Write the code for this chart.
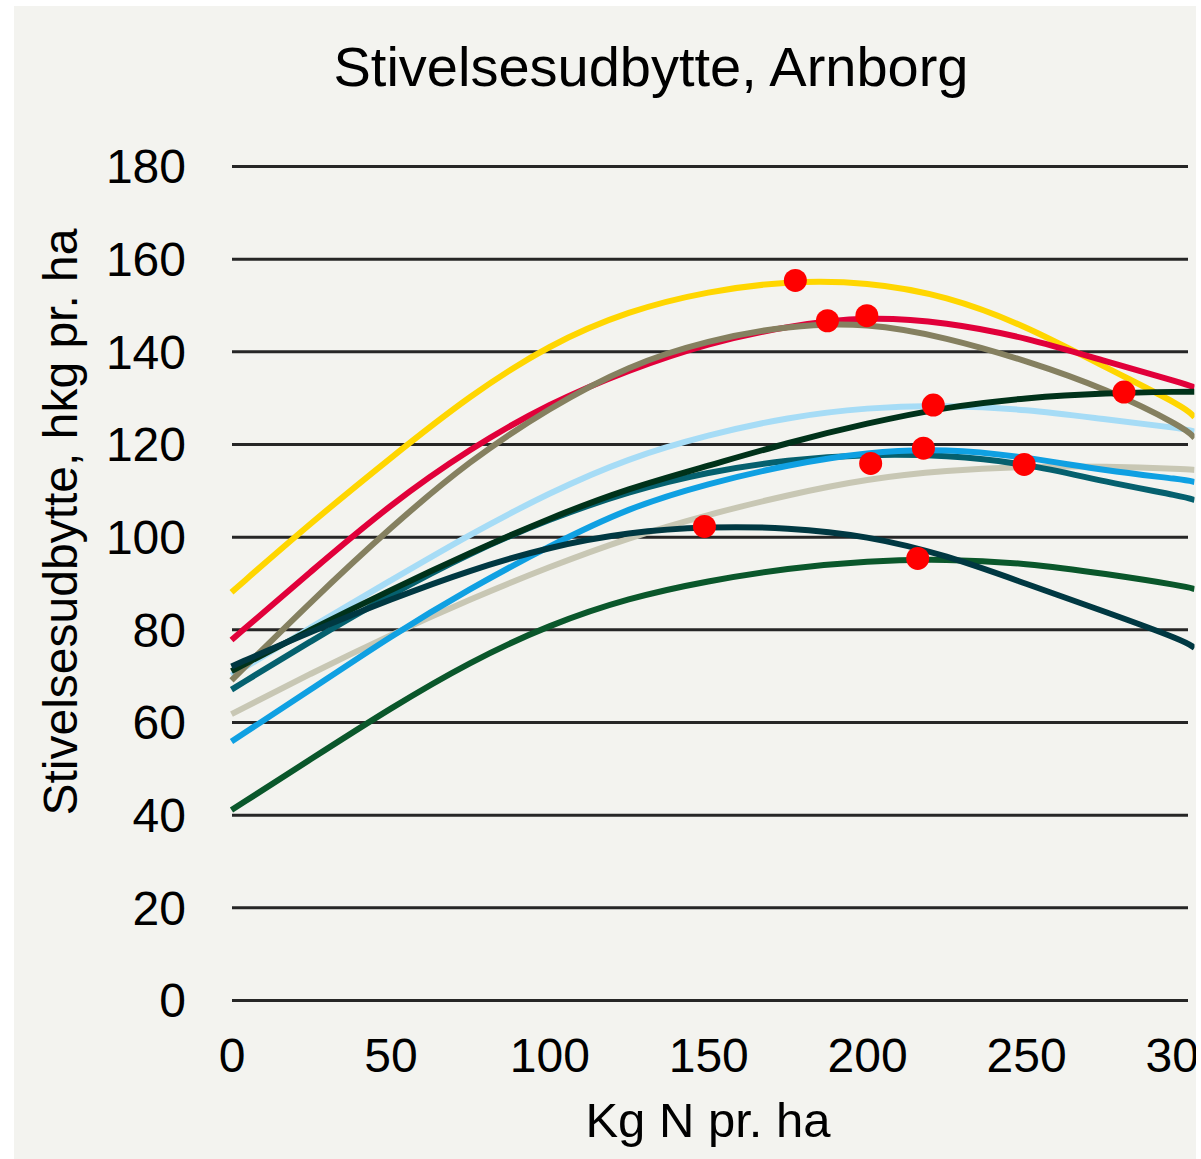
<!DOCTYPE html>
<html>
<head>
<meta charset="utf-8">
<script src="https://cdn.jsdelivr.net/npm/d3@7"></script>
<style>
  body { margin: 0; background: #ffffff; }
  text { font-family: 'Liberation Sans', Arial, sans-serif; fill: #000; }
</style>
</head>
<body>
<div id="chart"></div>
<script>
// Nitrogen levels (Kg N pr. ha) where the curves were read, last one is the right edge
var nLevels = [0, 25, 50, 75, 100, 125, 150, 175, 200, 225, 250, 275, 300, 303]

// Starch yield per curve, hkg pr. ha
var yellowYield = [88, 103, 117, 130.5, 141.5, 148.8, 153, 155.2, 155, 152, 145.5, 136.5, 128, 125.8]
var redYield = [77.7, 92.5, 107, 119, 128.8, 136, 141.8, 145.5, 147.6, 146.3, 143, 137.8, 133, 132.2]
var oliveYield = [69, 86, 102, 116.5, 127.8, 137, 142.4, 145.6, 146.2, 143, 138, 132, 123.5, 121.3]
var lightBlueYield = [70, 80.5, 90.5, 100.5, 109.5, 117, 122, 125.8, 127.9, 128.4, 127.5, 125.3, 123.3, 122.7]
var darkGreenYield = [71, 80, 88.5, 96.5, 104, 110.5, 115.3, 120.3, 124.5, 128, 130, 131, 131.3, 131.3]
var tealYield = [67, 77.5, 87.5, 96.5, 103.8, 109.8, 114, 116.6, 117.8, 117.6, 115.8, 111.8, 108.6, 107.9]
var blueYield = [55.8, 67, 78.5, 88.8, 98, 106.3, 111.5, 115.5, 118.3, 119, 117.2, 114.2, 112.3, 111.8]
var beigeYield = [61.7, 70.5, 78.8, 86.5, 93.5, 99.8, 104.8, 109, 112.5, 114.3, 115.2, 115.2, 114.6, 114.4]
var navyYield = [72, 79.5, 86.5, 92.8, 97.8, 101, 102.2, 102, 100.2, 96, 89.8, 83.8, 77.5, 76]
var greenYield = [41, 52, 63, 73, 81, 86.8, 90.5, 93.2, 94.8, 95.2, 94.3, 92, 89.3, 88.7]

// Economic optimum points (red dots)
var optN = [148.8, 177.4, 187.5, 199.9, 201.1, 217.7, 220.8, 215.9, 249.4, 280.8]
var optYield = [102.2, 155.3, 146.6, 147.7, 115.8, 119.1, 128.4, 95.3, 115.6, 131.2]

// Axis ticks
var xTicks = [0, 50, 100, 150, 200, 250, 300]
var yTicks = [0, 20, 40, 60, 80, 100, 120, 140, 160, 180]

var series = [
  { name: 'lightblue', values: lightBlueYield, color: '#a6dcf6' },
  { name: 'beige', values: beigeYield, color: '#c8c7b4' },
  { name: 'yellow', values: yellowYield, color: '#ffd600' },
  { name: 'red', values: redYield, color: '#e1003a' },
  { name: 'olive', values: oliveYield, color: '#858060' },
  { name: 'teal', values: tealYield, color: '#05606e' },
  { name: 'blue', values: blueYield, color: '#0fa0e2' },
  { name: 'darkgreen', values: darkGreenYield, color: '#00321a' },
  { name: 'green', values: greenYield, color: '#0a572b' },
  { name: 'navy', values: navyYield, color: '#003842' }
]

var width = 1201
var height = 1159

var svg = d3
  .select('#chart')
  .append('svg')
  .attr('width', width)
  .attr('height', height)

// the grey panel clips everything, the "300" label is cut at its edge
svg
  .append('clipPath')
  .attr('id', 'panel-clip')
  .append('rect')
  .attr('x', 14)
  .attr('y', 6)
  .attr('width', 1182)
  .attr('height', height - 6)

svg
  .append('clipPath')
  .attr('id', 'plot-clip')
  .append('rect')
  .attr('x', 226)
  .attr('y', 100)
  .attr('width', 1194.5 - 226)
  .attr('height', 950)

var chart = svg.append('g').attr('clip-path', 'url(#panel-clip)')

chart
  .append('rect')
  .attr('x', 14)
  .attr('y', 6)
  .attr('width', 1182)
  .attr('height', height - 6)
  .attr('fill', '#f3f3ef')

var xPositionScale = d3
  .scaleLinear()
  .domain([0, 300])
  .range([231.5, 1185])
var yPositionScale = d3
  .scaleLinear()
  .domain([0, 180])
  .range([1000, 166])

// gridlines + y labels
var yAxis = d3
  .axisLeft(yPositionScale)
  .tickValues(yTicks)
  .tickSize(-(1188 - 232))
  .tickPadding(46)
chart
  .append('g')
  .attr('class', 'axis y-axis')
  .attr('transform', 'translate(232,0)')
  .call(yAxis)
  .call(g => g.select('.domain').remove())
  .call(g =>
    g
      .selectAll('.tick line')
      .attr('stroke', '#262626')
      .attr('stroke-width', 3)
  )
  .call(g =>
    g
      .selectAll('.tick text')
      .attr('font-size', 48)
      .attr('fill', '#000')
      .attr('dy', '0.35em')
  )

var xAxis = d3
  .axisBottom(xPositionScale)
  .tickValues(xTicks)
  .tickSize(0)
  .tickPadding(0)
chart
  .append('g')
  .attr('class', 'axis x-axis')
  .attr('transform', 'translate(0,1072)')
  .call(xAxis)
  .call(g => g.select('.domain').remove())
  .call(g =>
    g
      .selectAll('.tick text')
      .attr('font-size', 48)
      .attr('fill', '#000')
      .attr('dy', 0)
  )

// curves
var line = d3
  .line()
  .x((d, i) => xPositionScale(nLevels[i]))
  .y(d => yPositionScale(d))
  .curve(d3.curveBasis)

chart
  .append('g')
  .attr('clip-path', 'url(#plot-clip)')
  .selectAll('.curve')
  .data(series)
  .enter()
  .append('path')
  .attr('class', 'curve')
  .attr('d', d => line(d.values))
  .attr('fill', 'none')
  .attr('stroke', d => d.color)
  .attr('stroke-width', 6)

// optimum dots
chart
  .selectAll('.opt')
  .data(optN)
  .enter()
  .append('circle')
  .attr('class', 'opt')
  .attr('cx', d => xPositionScale(d))
  .attr('cy', (d, i) => yPositionScale(optYield[i]))
  .attr('r', 11.5)
  .attr('fill', '#ff0000')

// titles
chart
  .append('text')
  .text('Stivelsesudbytte, Arnborg')
  .attr('x', 651)
  .attr('y', 86)
  .attr('font-size', 56)
  .attr('text-anchor', 'middle')

chart
  .append('text')
  .text('Kg N pr. ha')
  .attr('x', 708)
  .attr('y', 1137)
  .attr('font-size', 49)
  .attr('text-anchor', 'middle')

chart
  .append('text')
  .text('Stivelsesudbytte, hkg pr. ha')
  .attr('transform', 'translate(77,522) rotate(-90)')
  .attr('font-size', 48)
  .attr('text-anchor', 'middle')
</script>
</body>
</html>
